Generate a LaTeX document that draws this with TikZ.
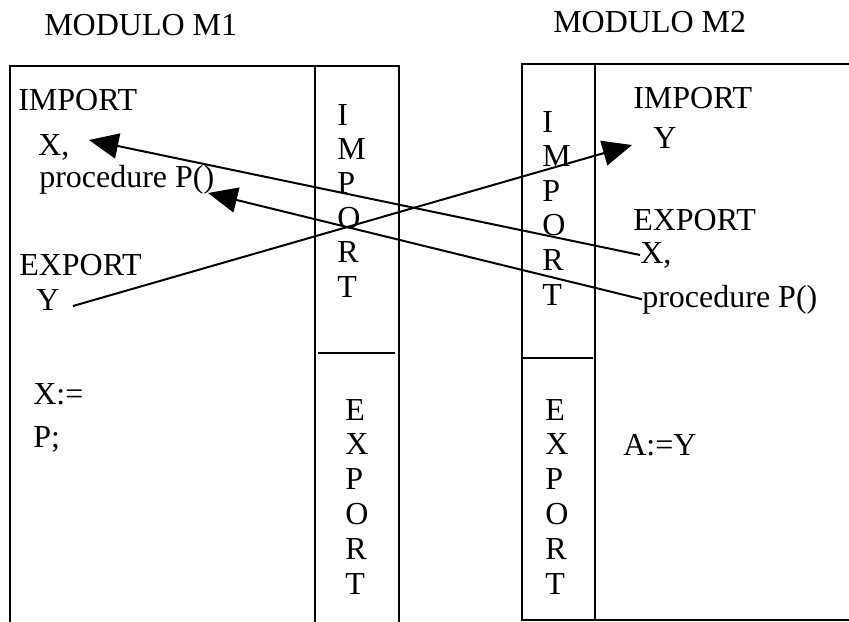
\documentclass[tikz,border=0pt]{standalone}
\usepackage{fontspec}
\setmainfont{Liberation Serif}
\usetikzlibrary{arrows.meta}

\begin{document}
\begin{tikzpicture}[x=0.75pt,y=-0.75pt,
    box/.style={line width=1.5pt},
    txt/.style={anchor=base west,inner sep=0pt,font=\fontsize{24}{28}\selectfont},
    link/.style={line width=1.5pt,-{Triangle[length=22pt,width=19pt]}}]
    \useasboundingbox (0,0) rectangle (849,621);
    \draw[box] (10,640) -- (10,66) -- (399,66) -- (399,640);
    \draw[box] (315,66) -- (315,640);
    \draw[box] (318,353) -- (395,353);
    \draw[box] (870,64) -- (522,64) -- (522,620) -- (870,620);
    \draw[box] (595,64) -- (595,620);
    \draw[box] (522,358) -- (593,358);
    \node[txt] (titleA) at (44,36) {MODULO M1};
    \node[txt] (titleB) at (553,32) {MODULO M2};
    \node[txt] (impA) at (18,110) {IMPORT};
    \node[txt] (xA) at (38,155) {X,};
    \node[txt] (procA) at (39,187) {procedure P()};
    \node[txt] (expA) at (19,275) {EXPORT};
    \node[txt] (yA) at (36,310) {Y};
    \node[txt] (setA) at (33,404) {X:=};
    \node[txt] (callA) at (33,447) {P;};
    \node[txt] (impB) at (633,108) {IMPORT};
    \node[txt] (yB) at (653,148) {Y};
    \node[txt] (expB) at (633,230) {EXPORT};
    \node[txt] (xB) at (640,263) {X,};
    \node[txt] (procB) at (642,307) {procedure P()};
    \node[txt] (setB) at (623,455) {A:=Y};
    \foreach \l [count=\i] in {I,M,P,O,R,T} {
        \node[txt] (colImpA\i) at (337,{125+(\i-1)*34.4}) {\l};
        \node[txt] (colImpB\i) at (542,{132+(\i-1)*34.6}) {\l};
    }
    \foreach \l [count=\i] in {E,X,P,O,R,T} {
        \node[txt] (colExpA\i) at (345,{420+(\i-1)*34.8}) {\l};
        \node[txt] (colExpB\i) at (545,{420+(\i-1)*34.8}) {\l};
    }
    \coordinate (tipX) at (89,140);
    \coordinate (tipP) at (208,193);
    \coordinate (tailY) at (73,306);
    \coordinate (tipY) at (632,145);
    \draw[link] (xB.west) -- (tipX);
    \draw[link] (procB.west) -- (tipP);
    \draw[link] (tailY) -- (tipY);
\end{tikzpicture}
\end{document}
